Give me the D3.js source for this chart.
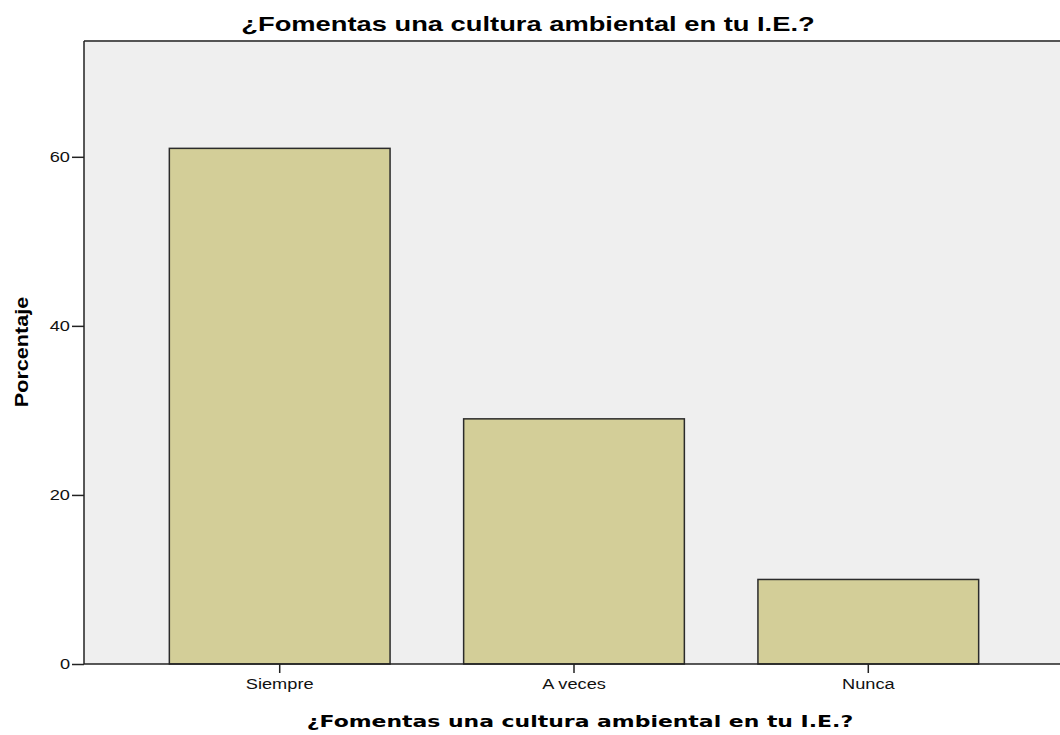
<!DOCTYPE html>
<html>
<head>
<meta charset="utf-8">
<script src="https://cdn.jsdelivr.net/npm/d3@7"></script>
<style>
  body { margin: 0; background: #fff; }
</style>
</head>
<body>
<div class="wrap-chart"></div>
<script>
var categories = ["Siempre", "A veces", "Nunca"],
  values = [61, 29, 10],
  yTicks = [0, 20, 40, 60];

(function drawChart() {
  var
    width = 1060,
    height = 735,
    plotLeft = 84,
    plotTop = 41,
    plotBottom = 664,
    plotRight = 1064,
    stretch = 1.3,
    barFill = "#d3ce98",
    plotBg = "#efefef",
    arial = "Liberation Sans, Arial, sans-serif",
    verdana = "DejaVu Sans, Verdana, sans-serif";

  // the original picture is a little wider than its fonts, so widen texts
  function widen(sel, k) {
    sel.each(function () {
      var w = this.getComputedTextLength();
      d3.select(this)
        .attr("textLength", w * (k || stretch))
        .attr("lengthAdjust", "spacingAndGlyphs");
    });
  }

  var svg = d3.select(".wrap-chart")
    .append("svg")
    .attr("width", width)
    .attr("height", height);

  var x = d3.scaleBand()
    .domain(categories)
    .range([plotLeft, plotRight])
    .paddingInner(0.25)
    .paddingOuter(0.29);

  var y = d3.scaleLinear()
    .domain([0, 73.7])
    .range([plotBottom, plotTop]);

  // plot background
  svg.append("rect")
    .attr("x", plotLeft)
    .attr("y", plotTop)
    .attr("width", width - plotLeft)
    .attr("height", plotBottom - plotTop)
    .attr("fill", plotBg);

  // bars
  svg.selectAll(".bar")
    .data(values)
    .enter()
    .append("rect")
    .attr("class", "bar")
    .attr("x", function (d, i) { return x(categories[i]); })
    .attr("y", function (d) { return y(d); })
    .attr("width", x.bandwidth())
    .attr("height", function (d) { return y(0) - y(d); })
    .attr("fill", barFill)
    .attr("stroke", "#2b2b2b")
    .attr("stroke-width", 1.5);

  // top frame line
  svg.append("line")
    .attr("x1", plotLeft).attr("x2", width)
    .attr("y1", plotTop).attr("y2", plotTop)
    .attr("stroke", "#555").attr("stroke-width", 2);

  // y axis
  var gy = svg.append("g")
    .attr("transform", "translate(" + plotLeft + ",0)")
    .call(d3.axisLeft(y).tickValues(yTicks).tickSize(12).tickPadding(2));
  gy.select(".domain").attr("stroke", "#222").attr("stroke-width", 1.5)
    .attr("d", "M0," + plotTop + "V" + plotBottom);
  gy.selectAll(".tick line").attr("stroke", "#222").attr("stroke-width", 1.5);
  gy.selectAll(".tick text")
    .attr("font-family", arial)
    .attr("font-size", "14px")
    .attr("fill", "#111")
    .call(widen);

  // x axis
  var gx = svg.append("g")
    .attr("transform", "translate(0," + plotBottom + ")")
    .call(d3.axisBottom(x).tickSize(9).tickPadding(6));
  gx.select(".domain").attr("stroke", "#222").attr("stroke-width", 1.5)
    .attr("d", "M" + plotLeft + ",0H" + width);
  gx.selectAll(".tick line").attr("stroke", "#222").attr("stroke-width", 1.5);
  gx.selectAll(".tick text")
    .attr("font-family", arial)
    .attr("font-size", "14px")
    .attr("fill", "#111")
    .call(widen);

  // titles
  svg.append("text")
    .attr("x", 528)
    .attr("y", 31)
    .attr("text-anchor", "middle")
    .attr("font-family", arial)
    .attr("font-weight", "bold")
    .attr("font-size", "21px")
    .attr("fill", "#000")
    .text("¿Fomentas una cultura ambiental en tu I.E.?")
    .call(widen);

  svg.append("text")
    .attr("x", 580)
    .attr("y", 727)
    .attr("text-anchor", "middle")
    .attr("font-family", verdana)
    .attr("font-weight", "bold")
    .attr("font-size", "16px")
    .attr("fill", "#000")
    .text("¿Fomentas una cultura ambiental en tu I.E.?")
    .call(widen, 1.37);

  svg.append("text")
    .attr("transform", "translate(28,352) rotate(-90)")
    .attr("text-anchor", "middle")
    .attr("font-family", arial)
    .attr("font-weight", "bold")
    .attr("font-size", "18px")
    .attr("fill", "#000")
    .text("Porcentaje")
    .call(widen, 1.2);
})();
</script>
</body>
</html>
